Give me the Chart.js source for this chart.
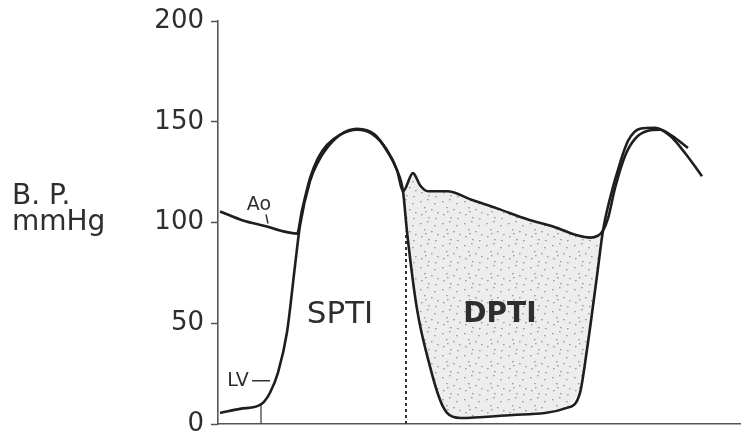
<!DOCTYPE html>
<html lang="en">

<head>
    <meta charset="UTF-8">
    <title>SPTI / DPTI</title>
    <script src="https://cdn.jsdelivr.net/npm/chart.js@4.4.1/dist/chart.umd.min.js"></script>
    <style>
        body { margin: 0; background: #fff; }
    </style>
</head>

<body>
    <canvas id="chart" width="741" height="437"></canvas>

    <script type="text/javascript">

        // time axis is unlabelled, t in arbitrary units
        const aoT = [2, 25, 49, 62, 79, 84, 92, 100, 109, 122, 139, 154, 169, 179, 185, 195, 202, 210, 229, 255, 279, 310, 335, 360, 372, 380, 385, 390, 397, 407, 417, 430, 442, 454, 470];
        const aoP = [105.5, 101, 98, 96, 94.5, 106, 122, 132, 138.5, 143.5, 146, 144, 136, 126, 115.5, 124.5, 118.5, 115.5, 115.5, 111, 107, 101.5, 98, 93.5, 92.5, 93.5, 96, 102, 117, 133, 141.5, 145.5, 146, 143, 137];

        const lvT = [2, 22, 40, 46, 52, 60, 69, 77, 82, 92, 100, 109, 122, 139, 157, 169, 179, 185, 189, 199, 212, 222, 229, 242, 295, 349, 362, 369, 379, 385, 392, 402, 410, 422, 437, 452, 467, 484];
        const lvP = [5.5, 7.5, 9, 11, 15.5, 25.5, 45.5, 78.5, 98.5, 120.5, 130, 137, 143.5, 146.5, 143.5, 135.5, 126, 115.5, 95.5, 57, 28.5, 12, 5.5, 3, 4.5, 8, 15.5, 37, 73.5, 96, 112, 129.5, 140.5, 146.5, 147, 143, 134.5, 123];

        // diastole = between aortic valve closure and opening
        const diaStart = 185;
        const diaEnd = 385;
        const startMarkT = 43;

        const yTicks = [0, 50, 100, 150, 200];

        const canvas = document.getElementById('chart');
        const ctx = canvas.getContext('2d');

        function pts(ts, ps) {
            return ts.map((t, i) => ({ x: t, y: ps[i] }));
        }

        function lvAt(t) {
            return lvP[lvT.indexOf(t)];
        }

        // stipple texture for DPTI
        function stipple() {
            const c = document.createElement('canvas');
            c.width = 22; c.height = 22;
            const g = c.getContext('2d');
            g.fillStyle = '#ededed';
            g.fillRect(0, 0, 22, 22);
            g.fillStyle = '#9c9c9c';
            const dots = [[2, 3], [9, 1], [16, 5], [6, 9], [13, 11], [19, 14], [3, 16], [10, 19], [17, 20], [7, 13]];
            dots.forEach(d => g.fillRect(d[0], d[1], 1.6, 1.3));
            return ctx.createPattern(c, 'repeat');
        }

        const aoPts = pts(aoT, aoP);
        const lvPts = pts(lvT, lvP);
        const dpti = aoPts.filter(p => p.x >= diaStart && p.x <= diaEnd)
            .concat(lvPts.filter(p => p.x >= diaStart && p.x <= diaEnd).reverse());

        const labels = {
            id: 'labels',
            afterDatasetsDraw(chart) {
                const c = chart.ctx;
                const x = chart.scales.x, y = chart.scales.y;
                c.save();
                c.fillStyle = '#2e2e2e';
                c.textAlign = 'center';
                c.textBaseline = 'middle';
                c.font = '31px "DejaVu Sans"';
                c.fillText('SPTI', x.getPixelForValue(122), y.getPixelForValue(54));
                c.font = 'bold 28px "DejaVu Sans"';
                c.fillText('DPTI', x.getPixelForValue(282), y.getPixelForValue(54));
                c.font = '19px "DejaVu Sans"';
                c.fillText('Ao', x.getPixelForValue(41), y.getPixelForValue(108.5));
                c.fillText('LV', x.getPixelForValue(20), y.getPixelForValue(21.5));

                c.strokeStyle = '#333';
                c.lineWidth = 1.5;
                c.beginPath();
                c.moveTo(x.getPixelForValue(34), y.getPixelForValue(21.5));
                c.lineTo(x.getPixelForValue(52), y.getPixelForValue(21.5));
                c.moveTo(x.getPixelForValue(48), y.getPixelForValue(104));
                c.lineTo(x.getPixelForValue(50), y.getPixelForValue(99.5));
                c.stroke();

                c.textAlign = 'left';
                c.textBaseline = 'alphabetic';
                c.font = '28px "DejaVu Sans"';
                c.fillText('B. P.', 12, 204);
                c.fillText('mmHg', 12, 230);
                c.restore();
            }
        };

        new Chart(ctx, {
            type: 'line',
            data: {
                datasets: [{
                    label: 'Ao',
                    data: aoPts,
                    borderColor: '#1e1e1e',
                    borderWidth: 2.6,
                    fill: false,
                    pointRadius: 0,
                    cubicInterpolationMode: 'monotone'
                }, {
                    label: 'LV',
                    data: lvPts,
                    borderColor: '#1e1e1e',
                    borderWidth: 2.6,
                    fill: false,
                    pointRadius: 0,
                    cubicInterpolationMode: 'monotone'
                }, {
                    label: 'closure',
                    data: [{ x: diaStart + 3, y: 0 }, { x: diaStart + 3, y: lvAt(189) }],
                    borderColor: '#333',
                    borderWidth: 2,
                    borderDash: [3, 3],
                    fill: false,
                    pointRadius: 0
                }, {
                    label: 'start',
                    data: [{ x: startMarkT, y: 0 }, { x: startMarkT, y: 10 }],
                    borderColor: '#444',
                    borderWidth: 1.3,
                    fill: false,
                    pointRadius: 0
                }, {
                    label: 'DPTI',
                    data: dpti,
                    borderWidth: 0,
                    backgroundColor: stipple(),
                    fill: 'shape',
                    pointRadius: 0,
                    tension: 0
                }]
            },
            options: {
                responsive: false,
                animation: false,
                layout: { padding: { top: 21, left: 0, right: 0, bottom: 0 } },
                plugins: {
                    legend: { display: false },
                    tooltip: { enabled: false }
                },
                scales: {
                    x: {
                        type: 'linear',
                        min: 0,
                        max: 523,
                        ticks: { display: false },
                        grid: { display: false },
                        border: { display: true, color: '#555', width: 1.6 },
                        afterFit: s => { s.height = 13; }
                    },
                    y: {
                        min: 0,
                        max: 200,
                        afterBuildTicks: s => { s.ticks = yTicks.map(v => ({ value: v })); },
                        ticks: {
                            color: '#2e2e2e',
                            padding: 7,
                            font: { family: 'DejaVu Sans', size: 26, lineHeight: 0.4 }
                        },
                        grid: { drawOnChartArea: false, tickLength: 7, tickColor: '#555', tickWidth: 1.5 },
                        border: { display: true, color: '#555', width: 1.6 },
                        afterFit: s => { s.width = 218; }
                    }
                }
            },
            plugins: [labels]
        });

    </script>

</body>

</html>
